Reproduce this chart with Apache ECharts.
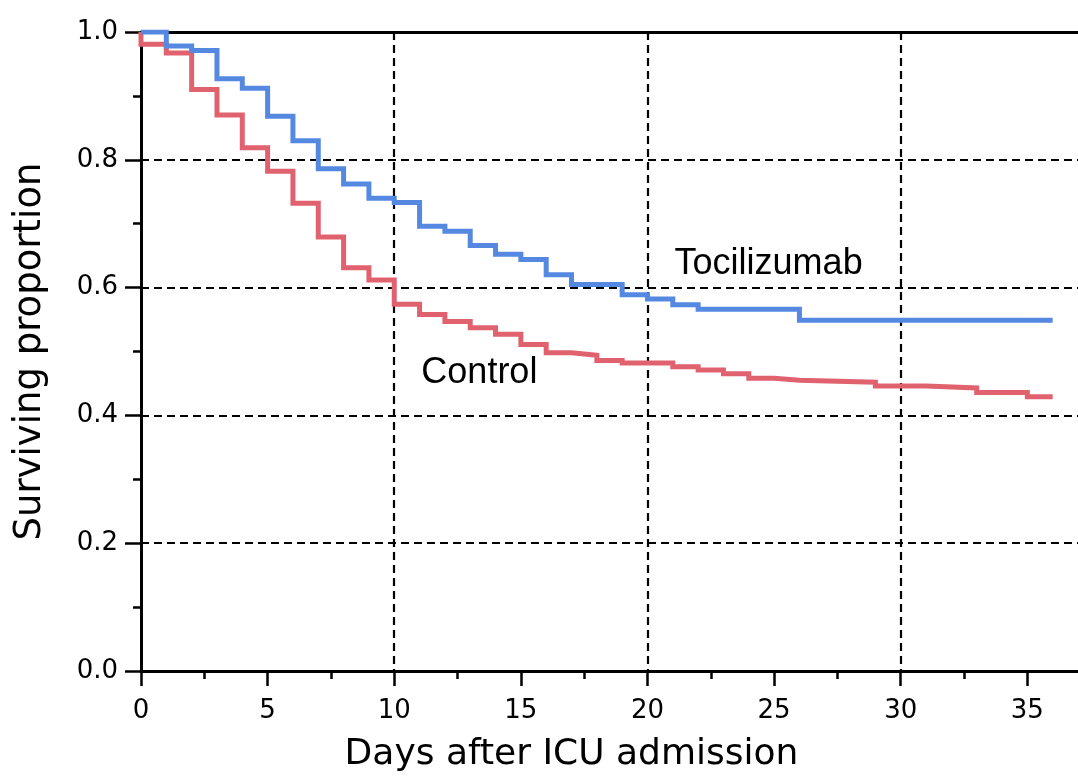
<!DOCTYPE html>
<html>
<head>
<meta charset="utf-8">
<script src="https://cdn.jsdelivr.net/npm/echarts@6/dist/echarts.min.js"></script>
<style>
html,body{margin:0;padding:0;background:#fff;}
#chart{width:1078px;height:778px;}
</style>
</head>
<body>
<div id="chart"></div>
<script>
// Kaplan-Meier step data
const tociDays   = [0, 1, 2, 3, 4, 5, 6, 7, 8, 9, 10, 11, 12, 13, 14, 15, 16, 17, 19, 20, 21, 22, 26, 36];
const tociSurv   = [1.0, 0.978, 0.971, 0.927, 0.912, 0.868, 0.830, 0.786, 0.762, 0.740, 0.733, 0.696, 0.688, 0.666, 0.652, 0.644, 0.620, 0.605, 0.589, 0.582, 0.573, 0.566, 0.549, 0.549];
const ctrlDays   = [0, 0, 1, 2, 3, 4, 5, 6, 7, 8, 9, 10, 11, 12, 13, 14, 15, 16, 17, 17.5, 18, 19, 21, 22, 23, 24, 25, 26, 29, 31, 33, 35, 36];
const ctrlSurv   = [1.0, 0.981, 0.967, 0.910, 0.870, 0.819, 0.782, 0.732, 0.679, 0.631, 0.612, 0.574, 0.558, 0.547, 0.537, 0.527, 0.511, 0.498, 0.496, 0.494, 0.486, 0.482, 0.476, 0.471, 0.465, 0.458, 0.455, 0.452, 0.446, 0.443, 0.436, 0.429, 0.429];
const seriesNames = ['Tocilizumab', 'Control'];
// tick positions
const xMajorTicks = [0, 5, 10, 15, 20, 25, 30, 35];
const xMinorTicks = [2.5, 7.5, 12.5, 17.5, 22.5, 27.5, 32.5];
const xGridTicks  = [10, 20, 30];
// in-plot annotations (data units)
const annotText = ['Tocilizumab', 'Control'];
const annotDay  = [21.07, 11.07];
const annotSurv = [0.637, 0.466];

const yTickStep = 0.2;
const X_MAX = 37;

const zip = (a, b) => a.map((v, i) => [v, b[i]]);

const chart = echarts.init(document.getElementById('chart'));
const dashed = { color: '#000', width: 2.2, type: [8, 5] };

chart.setOption({
  animation: false,
  backgroundColor: '#fff',
  grid: { left: 141, right: 0, top: 32, bottom: 106, containLabel: false },
  xAxis: [
    {
      type: 'value', min: 0, max: X_MAX, interval: 5,
      position: 'bottom',
      name: 'Days after ICU admission', nameLocation: 'middle', nameGap: 66,
      nameTextStyle: { fontFamily: 'DejaVu Sans', fontSize: 36, color: '#000', padding: [0, 76, 0, 0] },
      axisLine: { show: true, onZero: false, lineStyle: { color: '#000', width: 3 } },
      axisTick: { show: true, inside: false, length: 15, customValues: xMajorTicks, lineStyle: { color: '#000', width: 2.5 } },
      minorTick: { show: false },
      axisLabel: {
        fontFamily: 'DejaVu Sans', fontSize: 26, color: '#000', margin: 27,
        customValues: xMajorTicks,
        formatter: v => String(v)
      },
      splitLine: { show: false }
    },
    {
      type: 'value', min: 0, max: X_MAX, interval: 5,
      position: 'bottom',
      axisLine: { show: false, onZero: false },
      axisTick: { show: true, inside: false, length: 8, customValues: xMinorTicks, lineStyle: { color: '#000', width: 2.5 } },
      axisLabel: { show: false },
      splitLine: { show: false }
    },
    {
      type: 'value', min: 0, max: X_MAX, interval: 10,
      position: 'top',
      axisLine: { show: true, onZero: false, lineStyle: { color: '#000', width: 3 } },
      axisTick: { show: false, customValues: xGridTicks },
      axisLabel: { show: false },
      splitLine: { show: true, lineStyle: dashed }
    }
  ],
  yAxis: {
    type: 'value', min: 0, max: 1, interval: yTickStep,
    name: 'Surviving proportion', nameLocation: 'middle', nameGap: 92,
    nameTextStyle: { fontFamily: 'DejaVu Sans', fontSize: 37, color: '#000' },
    axisLine: { show: true, onZero: false, lineStyle: { color: '#000', width: 3 } },
    axisTick: { show: true, inside: false, length: 16, lineStyle: { color: '#000', width: 2.5 } },
    minorTick: { show: true, splitNumber: 2, length: 8, lineStyle: { color: '#000', width: 2.5 } },
    axisLabel: {
      fontFamily: 'DejaVu Sans', fontSize: 26, color: '#000', margin: 23,
      formatter: v => v.toFixed(1)
    },
    splitLine: { show: true, lineStyle: dashed }
  },
  series: [
    {
      name: seriesNames[0], type: 'line', step: 'end', showSymbol: false, symbol: 'none',
      data: zip(tociDays, tociSurv),
      lineStyle: { color: '#5589e1', width: 5, cap: 'butt', join: 'miter' },
      z: 4
    },
    {
      name: seriesNames[1], type: 'line', step: 'end', showSymbol: false, symbol: 'none',
      data: zip(ctrlDays, ctrlSurv),
      lineStyle: { color: '#e0626e', width: 5, cap: 'butt', join: 'miter' },
      z: 3
    },
    {
      type: 'scatter', symbolSize: 0, silent: true,
      itemStyle: { opacity: 1 },
      data: annotText.map((t, i) => [annotDay[i], annotSurv[i], t]),
      label: {
        show: true, position: 'right', distance: 0, opacity: 1,
        formatter: p => p.value[2],
        fontFamily: 'Liberation Sans', fontSize: 36, color: '#000',
        textBorderWidth: 0,
        align: 'left', verticalAlign: 'middle'
      },
      z: 5
    }
  ]
});
</script>
</body>
</html>
